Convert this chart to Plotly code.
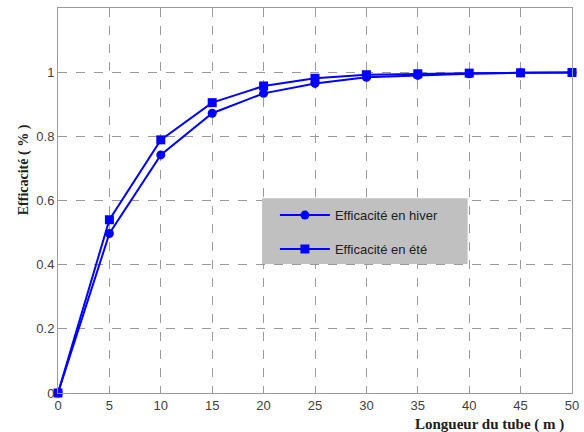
import plotly.graph_objects as go

longueur = [0, 5, 10, 15, 20, 25, 30, 35, 40, 45, 50]
eff_hiver = [0, 0.497, 0.742, 0.872, 0.934, 0.965, 0.984, 0.990, 0.995, 0.998, 0.999]
eff_ete = [0, 0.540, 0.789, 0.905, 0.957, 0.981, 0.992, 0.995, 0.997, 0.998, 0.999]
x_ticks = [0, 5, 10, 15, 20, 25, 30, 35, 40, 45, 50]
y_ticks = [0, 0.2, 0.4, 0.6, 0.8, 1]
y_tick_labels = ["0", "0.2", "0.4", "0.6", "0.8", "1"]

fig = go.Figure()
fig.add_trace(go.Scatter(x=longueur, y=eff_hiver, mode="lines+markers",
                         name="Efficacité en hiver", legendgroup="hiver", cliponaxis=False,
                         line=dict(color="#0000ff", width=2),
                         marker=dict(symbol="circle", size=9, color="#0000ff")))
fig.add_trace(go.Scatter(x=longueur, y=eff_ete, mode="lines+markers",
                         name="Efficacité en été", legendgroup="ete", cliponaxis=False,
                         line=dict(color="#0000ff", width=2),
                         marker=dict(symbol="square", size=9, color="#0000ff")))

axis_common = dict(showline=True, linecolor="#9a9a9a", linewidth=1, mirror=True,
                   showgrid=True, gridcolor="#9a9a9a", griddash="dash", gridwidth=1,
                   zeroline=False, ticks="inside", ticklen=4, tickcolor="#9a9a9a",
                   tickfont=dict(family="Arial, Liberation Sans", size=13, color="#404040"))

fig.update_xaxes(range=[0, 50], tickvals=x_ticks, ticklabeloverflow="allow", **axis_common)
fig.update_yaxes(range=[0, 1.2], tickvals=y_ticks, ticktext=y_tick_labels, **axis_common)

fig.update_layout(
    width=584, height=432,
    margin=dict(l=58, r=5, t=8, b=39),
    paper_bgcolor="white", plot_bgcolor="white",
    showlegend=True,
    legend=dict(x=0.422, y=0.501, xanchor="left", yanchor="top",
                bgcolor="rgba(0,0,0,0)", borderwidth=0,
                font=dict(family="Arial, Liberation Sans", size=13, color="#202020"),
                itemwidth=50, traceorder="grouped", tracegroupgap=14),
    shapes=[dict(type="rect", xref="paper", yref="paper",
                 x0=0.397, x1=0.797, y0=0.335, y1=0.506,
                 fillcolor="#c0c0c0", line=dict(width=0), layer="above")],
    annotations=[
        dict(text="<b>Longueur du tube ( m )</b>", x=0.988, y=-0.055, xref="paper", yref="paper",
             xanchor="right", yanchor="top", showarrow=False,
             font=dict(family="Times New Roman, Liberation Serif", size=15, color="#202020")),
        dict(text="<b>Efficacité ( % )</b>", x=-0.067, y=0.58, xref="paper", yref="paper",
             xanchor="center", yanchor="middle", textangle=-90, showarrow=False,
             font=dict(family="Times New Roman, Liberation Serif", size=14, color="#202020")),
    ],
)

fig.write_html("out.html")
